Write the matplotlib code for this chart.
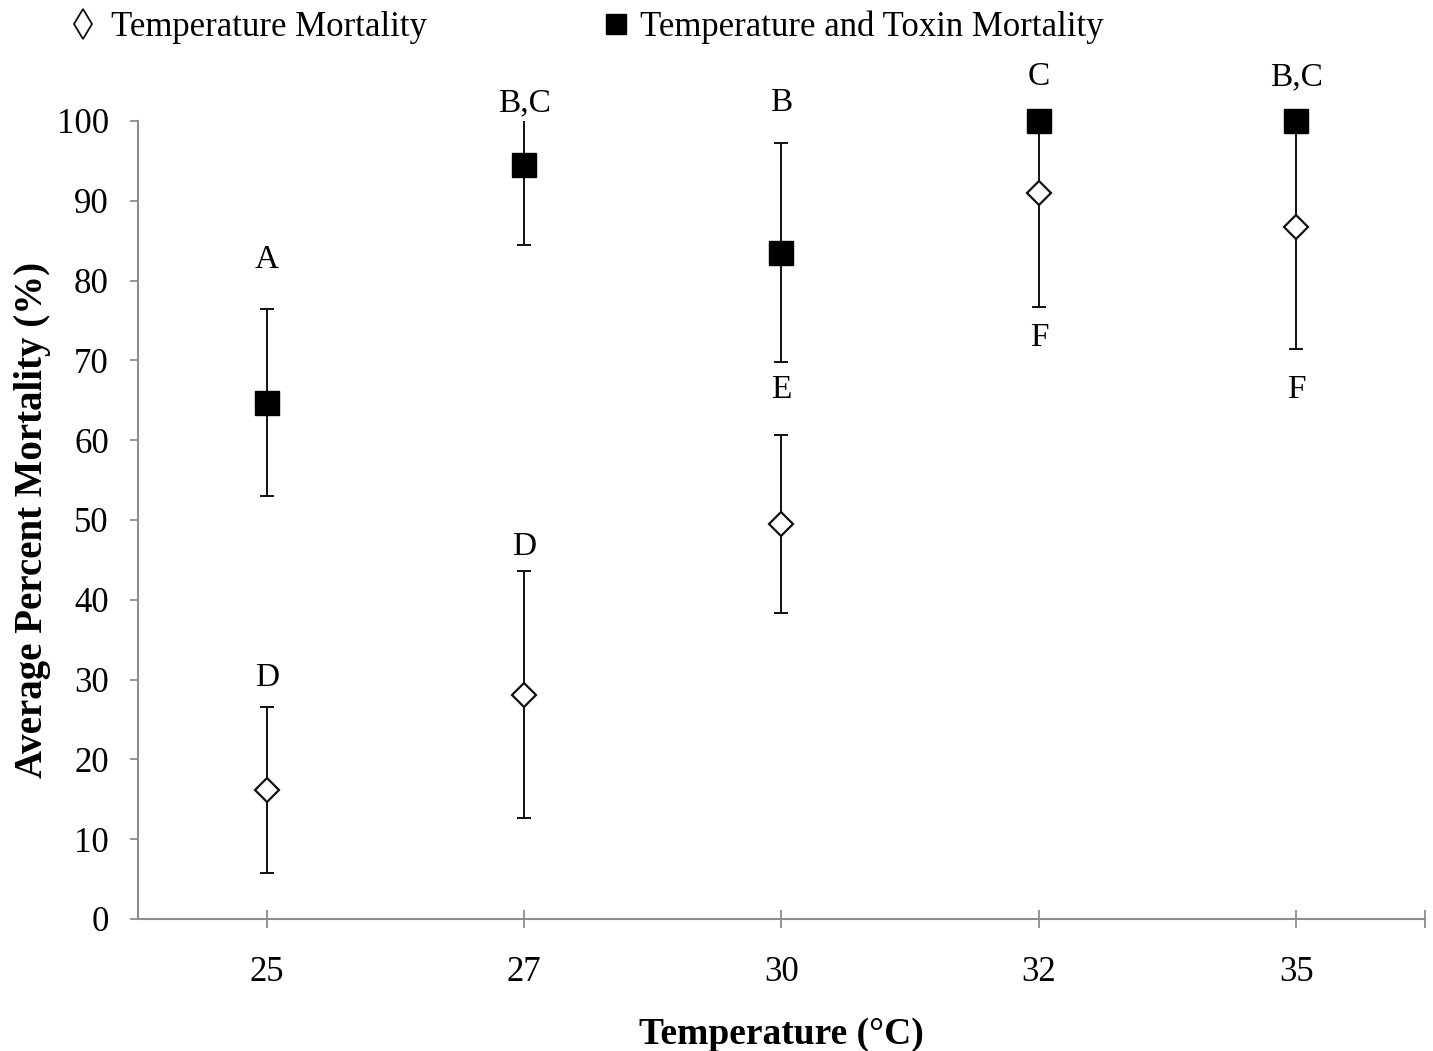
import matplotlib
matplotlib.use("Agg")
import matplotlib.pyplot as plt
from matplotlib.lines import Line2D
import numpy as np

# ---- data ----
temperatures = ["25", "27", "30", "32", "35"]
toxin_mean = [64.7, 94.5, 83.5, 100.0, 100.0]
toxin_err = [11.7, 10.0, 13.7, 0.0, 0.0]
temp_mean = [16.2, 28.1, 49.5, 91.0, 86.7]
temp_err = [10.4, 15.5, 11.2, 14.3, 15.3]
toxin_letters = ["A", "B,C", "B", "C", "B,C"]
temp_letters = ["D", "D", "E", "F", "F"]
y_ticks = [0, 10, 20, 30, 40, 50, 60, 70, 80, 90, 100]

plt.rcParams['font.family'] = ['Liberation Serif', 'DejaVu Serif']

fig = plt.figure(figsize=(14.33, 10.51), dpi=100)
ax = fig.add_axes([0.0963, 0.1256, 0.8981, 0.7593])

x = np.arange(len(temperatures))
gray = "#8c8c8c"

# error bars (clipped at axis top like the original)
ax.errorbar(x, temp_mean, yerr=temp_err, fmt='none', ecolor='#111111',
            elinewidth=1.4, capsize=5, capthick=1.4, zorder=2)
ax.errorbar(x, toxin_mean, yerr=toxin_err, fmt='none', ecolor='#111111',
            elinewidth=1.4, capsize=5, capthick=1.4, zorder=2)

# markers
ax.plot(x, temp_mean, linestyle='none', marker='D', markersize=12.5,
        markerfacecolor='white', markeredgecolor='#111111', markeredgewidth=1.6,
        clip_on=False, zorder=3)
ax.plot(x, toxin_mean, linestyle='none', marker='s', markersize=17.5,
        markerfacecolor='black', markeredgecolor='black',
        clip_on=False, zorder=4)

# significance letters
toxin_letter_y = [82.6, 102.3, 102.3, 105.5, 105.5]
temp_letter_y = [30.2, 46.6, 66.3, 72.8, 66.3]
for i in range(len(temperatures)):
    ax.text(x[i], toxin_letter_y[i], toxin_letters[i], ha='center', va='center',
            fontsize=24, clip_on=False)
    ax.text(x[i], temp_letter_y[i], temp_letters[i], ha='center', va='center',
            fontsize=24, clip_on=False)

# axes styling
ax.set_xlim(-0.5, 4.5)
ax.set_ylim(0, 100)
ax.set_xticks(x)
ax.set_xticklabels(temperatures)
ax.set_xticks([4.5], minor=True)
ax.set_yticks(y_ticks)
for s in ['top', 'right']:
    ax.spines[s].set_visible(False)
for s in ['left', 'bottom']:
    ax.spines[s].set_color(gray)
    ax.spines[s].set_linewidth(1.5)
ax.tick_params(axis='x', which='both', direction='inout', length=13, width=1.3,
               color=gray, labelsize=25, pad=20)
ax.tick_params(axis='y', direction='out', length=6, width=1.3, color=gray,
               labelsize=25, pad=15)

ax.set_xlabel("Temperature (°C)", fontsize=27, fontweight='bold', labelpad=20)
ax.set_ylabel("Average Percent Mortality (%)", fontsize=28, fontweight='bold', labelpad=4)

# legend
h1 = Line2D([], [], linestyle='none', marker='d', markersize=15,
            markerfacecolor='white', markeredgecolor='#111111', markeredgewidth=1.3)
h2 = Line2D([], [], linestyle='none', marker='s', markersize=15,
            markerfacecolor='black', markeredgecolor='black')
fig.legend([h1], ["Temperature Mortality"], loc='center left',
           bbox_to_anchor=(0.036, 0.974), frameon=False, fontsize=25,
           handlelength=1.0, handletextpad=0.3, borderaxespad=0)
fig.legend([h2], ["Temperature and Toxin Mortality"], loc='center left',
           bbox_to_anchor=(0.408, 0.974), frameon=False, fontsize=25,
           handlelength=1.0, handletextpad=0.2, borderaxespad=0)

fig.savefig("out.png", dpi=100)
